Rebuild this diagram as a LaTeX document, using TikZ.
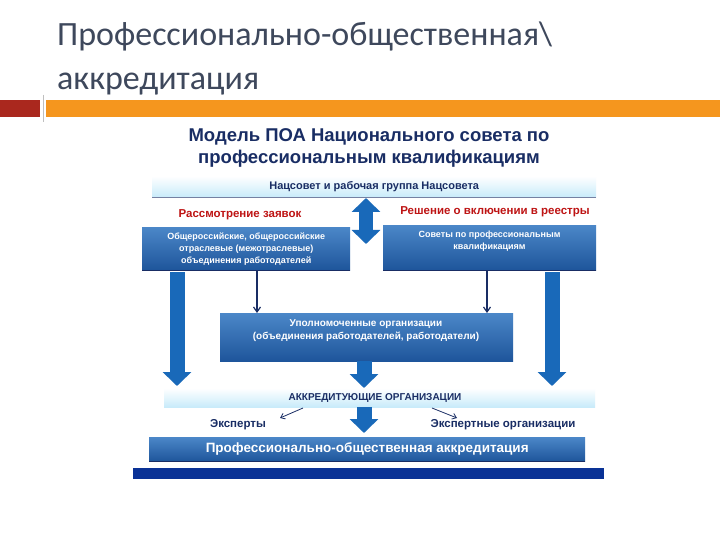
\documentclass[tikz,border=0pt]{standalone}
\usepackage{fontspec}
\setmainfont{Carlito}
\newfontfamily\ar{Liberation Sans}
\usetikzlibrary{arrows.meta}
\definecolor{titlec}{RGB}{62,72,92}
\definecolor{navy}{RGB}{25,45,100}
\definecolor{dblue}{RGB}{30,85,155}
\definecolor{mblue}{RGB}{75,135,200}
\definecolor{lcyan}{RGB}{200,235,250}
\definecolor{redt}{RGB}{190,20,20}
\definecolor{orng}{RGB}{245,150,30}
\definecolor{brick}{RGB}{170,40,30}
\definecolor{barblue}{RGB}{10,50,150}
\definecolor{arrblue}{RGB}{25,105,185}
\tikzset{
 darkbox/.style={draw=none,top color=mblue,bottom color=dblue,text=white,font=\ar\bfseries\fontsize{9}{12}\selectfont,align=center,anchor=north west,inner sep=0pt},
 lightbar/.style={draw=none,top color=white,bottom color=lcyan,text=navy,font=\ar\bfseries\fontsize{11}{13}\selectfont,anchor=north west,inner sep=0pt},
 bigarrow/.style={arrblue,line width=15pt,-{Triangle[width=28pt,length=14pt]}},
 thin/.style={navy,line width=1.2pt,-{Straight Barb[open,length=5pt,width=7pt]}},
 redlab/.style={text=redt,font=\ar\bfseries\fontsize{11.5}{13}\selectfont},
 blab/.style={text=navy,font=\ar\bfseries\fontsize{11.5}{13}\selectfont}
}
\begin{document}
\begin{tikzpicture}[x=1pt,y=-1pt]
\useasboundingbox (0,0) rectangle (720,540);
\fill[white] (0,0) rectangle (720,540);
\node[anchor=base west,inner sep=0pt,text=titlec,font=\fontsize{34}{38}\selectfont] (t1) at (57,46) {Профессионально-общественная\textbackslash};
\node[anchor=base west,inner sep=0pt,text=titlec,font=\fontsize{34}{38}\selectfont] (t2) at (57,90) {аккредитация};
\fill[brick] (0,100) rectangle (40,117);
\draw[gray!50,line width=0.8pt] (43,95) -- (43,122);
\fill[orng] (46,100) rectangle (720,117);
\node[text=navy,font=\ar\bfseries\fontsize{18.5}{22}\selectfont,align=center] (hd) at (369,148) {Модель ПОА Национального совета по\\профессиональным квалификациям};
\node[lightbar,minimum width=444pt,minimum height=21pt] (top) at (152,176) {Нацсовет и рабочая группа Нацсовета};
\draw[navy!60,line width=0.8pt] (152,197) -- (596,197);
\draw[arrblue,line width=14pt,{Triangle[width=28pt,length=14pt]}-{Triangle[width=28pt,length=14pt]}] (366,198) -- (366,244);
\node[redlab] (rl) at (240,215) {Рассмотрение заявок};
\node[redlab] (rr) at (495,212) {Решение о включении в реестры};
\node[darkbox,minimum width=208pt,minimum height=43pt] (lb) at (142,227) {Общероссийские, общероссийские\\отраслевые (межотраслевые)\\объединения работодателей};
\node[darkbox,minimum width=213pt,minimum height=45pt,anchor=north west] (rb) at (383,225) {};
\node[text=white,font=\ar\bfseries\fontsize{9}{12}\selectfont,align=center] (rbt) at (489.5,241) {Советы по профессиональным\\квалификациям};
\draw[navy,line width=1pt] (142,270) -- (350,270) (383,270) -- (596,270);
\node[darkbox,minimum width=293pt,minimum height=48pt] (mb) at (220,313) {};
\node[text=white,font=\ar\bfseries\fontsize{10}{13}\selectfont,align=center] (mbt) at (366,331) {Уполномоченные организации\\(объединения работодателей, работодатели)};
\coordinate (l1) at (257,270); \coordinate (l2) at (257,313);
\coordinate (r1) at (487,270); \coordinate (r2) at (487,313);
\draw[thin] (l1) -- (l2);
\draw[thin] (r1) -- (r2);
\node[lightbar,minimum width=431pt,minimum height=19pt] (acc) at (164,388) {};
\node[text=navy,font=\ar\bfseries\fontsize{10}{12}\selectfont] (acct) at (375,398) {АККРЕДИТУЮЩИЕ ОРГАНИЗАЦИИ};
\coordinate (al1) at (177,272); \coordinate (al2) at (177,386);
\coordinate (ar1) at (552,272); \coordinate (ar2) at (552,386);
\draw[bigarrow] (al1) -- (al2);
\draw[bigarrow] (ar1) -- (ar2);
\draw[bigarrow] (mb.south -| 364,0) -- (364,388);
\draw[bigarrow] (364,407) -- (364,433);
\node[blab] (ex) at (238,425) {Эксперты};
\node[blab] (eo) at (503,425) {Экспертные организации};
\draw[navy,line width=0.8pt,-{Straight Barb[open,length=4pt,width=6pt]}] (303,408) -- (280,418);
\draw[navy,line width=0.8pt,-{Straight Barb[open,length=4pt,width=6pt]}] (432,408) -- (457,418);
\node[darkbox,minimum width=436pt,minimum height=24pt,font=\ar\bfseries\fontsize{13.5}{15}\selectfont] (bb) at (149,437) {Профессионально-общественная аккредитация};
\draw[navy,line width=1pt] (149,461) -- (585,461);
\fill[barblue] (133,468) rectangle (604,479);
\end{tikzpicture}
\end{document}
